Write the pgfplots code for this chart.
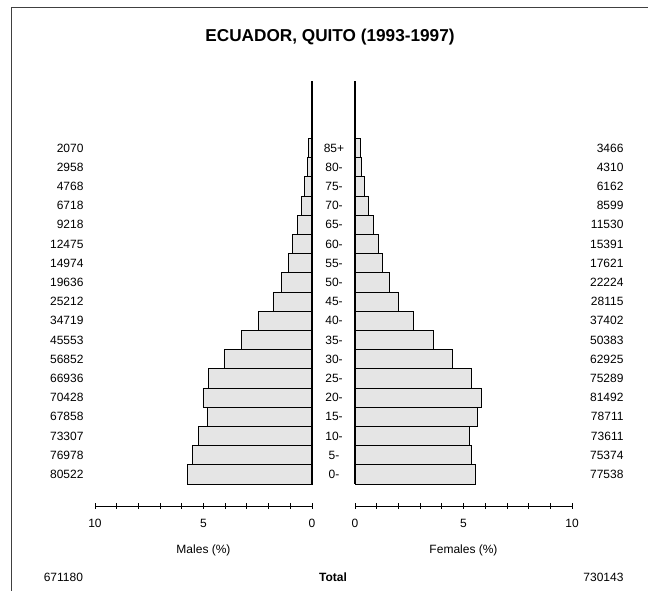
\documentclass[border=0pt]{standalone}
\usepackage{pgfplots}
\usepackage{pgfplotstable}
\pgfplotsset{compat=1.18}
\usepackage{fontspec}
\setmainfont{Liberation Sans}

% percentages of total population (671180 + 730143)
\pgfplotstableread{
idx male female
0  5.746 5.533
1  5.493 5.379
2  5.231 5.253
3  4.842 5.617
4  5.026 5.815
5  4.777 5.373
6  4.057 4.490
7  3.251 3.595
8  2.478 2.669
9  1.799 2.006
10 1.401 1.586
11 1.069 1.257
12 0.890 1.098
13 0.658 0.823
14 0.479 0.614
15 0.340 0.440
16 0.211 0.308
17 0.148 0.247
}\pyr

\newcommand{\sm}{\fontsize{12}{14}\selectfont}

\pgfplotsset{pyr/.style={
  scale only axis, width=217pt, height=425pt,
  xmin=0, xmax=10, ymin=-1.65, ymax=20.49,
  axis x line*=bottom,
  axis line style={-, line width=0.8pt, black},
  y axis line style={draw=none},
  xtick={0,...,10}, xticklabels={0,,,,,5,,,,,10},
  tick align=center, major tick length=6pt,
  xtick style={black, line width=0.8pt},
  ytick={0,...,17}, ytick style={draw=none},
  xticklabel style={anchor=base, yshift=-19pt},
  tick label style={font=\sm},
  /pgf/number format/assume math mode=true,
  xbar, bar width=1, bar shift=0pt,
  clip=false,
}}

\begin{document}
\begin{tikzpicture}
\useasboundingbox (0pt,0pt) rectangle (648pt,591pt);
\draw[line width=1.2pt, black!75] (11.5pt,0pt) -- (11.5pt,583.5pt) -- (648pt,583.5pt);

\node[font=\fontsize{17.2}{19}\selectfont\bfseries, anchor=base] at (330pt,549pt) {ECUADOR, QUITO (1993-1997)};

% males
\begin{axis}[pyr, at={(95pt,85pt)}, anchor=south west, x dir=reverse,
  axis y line*=left,
  yticklabels={80522,76978,73307,67858,70428,66936,56852,45553,34719,25212,19636,14974,12475,9218,6718,4768,2958,2070},
  yticklabel style={anchor=east, xshift=-2pt},
]
\addplot[fill=gray!20, draw=black, line width=0.7pt] table[x=male, y=idx] {\pyr};
\draw[line width=1.4pt] (axis cs:0,-0.5) -- (axis cs:0,20.49);
\end{axis}

% females
\begin{axis}[pyr, at={(355pt,85pt)}, anchor=south west,
  axis y line*=left,
  yticklabels={0-,5-,10-,15-,20-,25-,30-,35-,40-,45-,50-,55-,60-,65-,70-,75-,80-,85+},
  yticklabel style={anchor=center, xshift=-15pt},
]
\addplot[fill=gray!20, draw=black, line width=0.7pt] table[x=female, y=idx] {\pyr};
\draw[line width=1.4pt] (axis cs:0,-0.5) -- (axis cs:0,20.49);
\end{axis}

% female counts
\begin{axis}[pyr, at={(355pt,85pt)}, anchor=south west,
  axis x line=none, axis y line*=right,
  yticklabels={77538,75374,73611,78711,81492,75289,62925,50383,37402,28115,22224,17621,15391,11530,8599,6162,4310,3466},
  yticklabel style={anchor=east, xshift=49pt},
]
\end{axis}

\node[font=\sm, anchor=base] at (203.5pt,37pt) {Males (\%)};
\node[font=\sm, anchor=base] at (463.5pt,37pt) {Females (\%)};
\node[font=\sm, anchor=base east] at (86.5pt,9pt) {671180};
\node[font=\sm\bfseries, anchor=base] at (333pt,9pt) {Total};
\node[font=\sm, anchor=base east] at (627pt,9pt) {730143};
\end{tikzpicture}
\end{document}
